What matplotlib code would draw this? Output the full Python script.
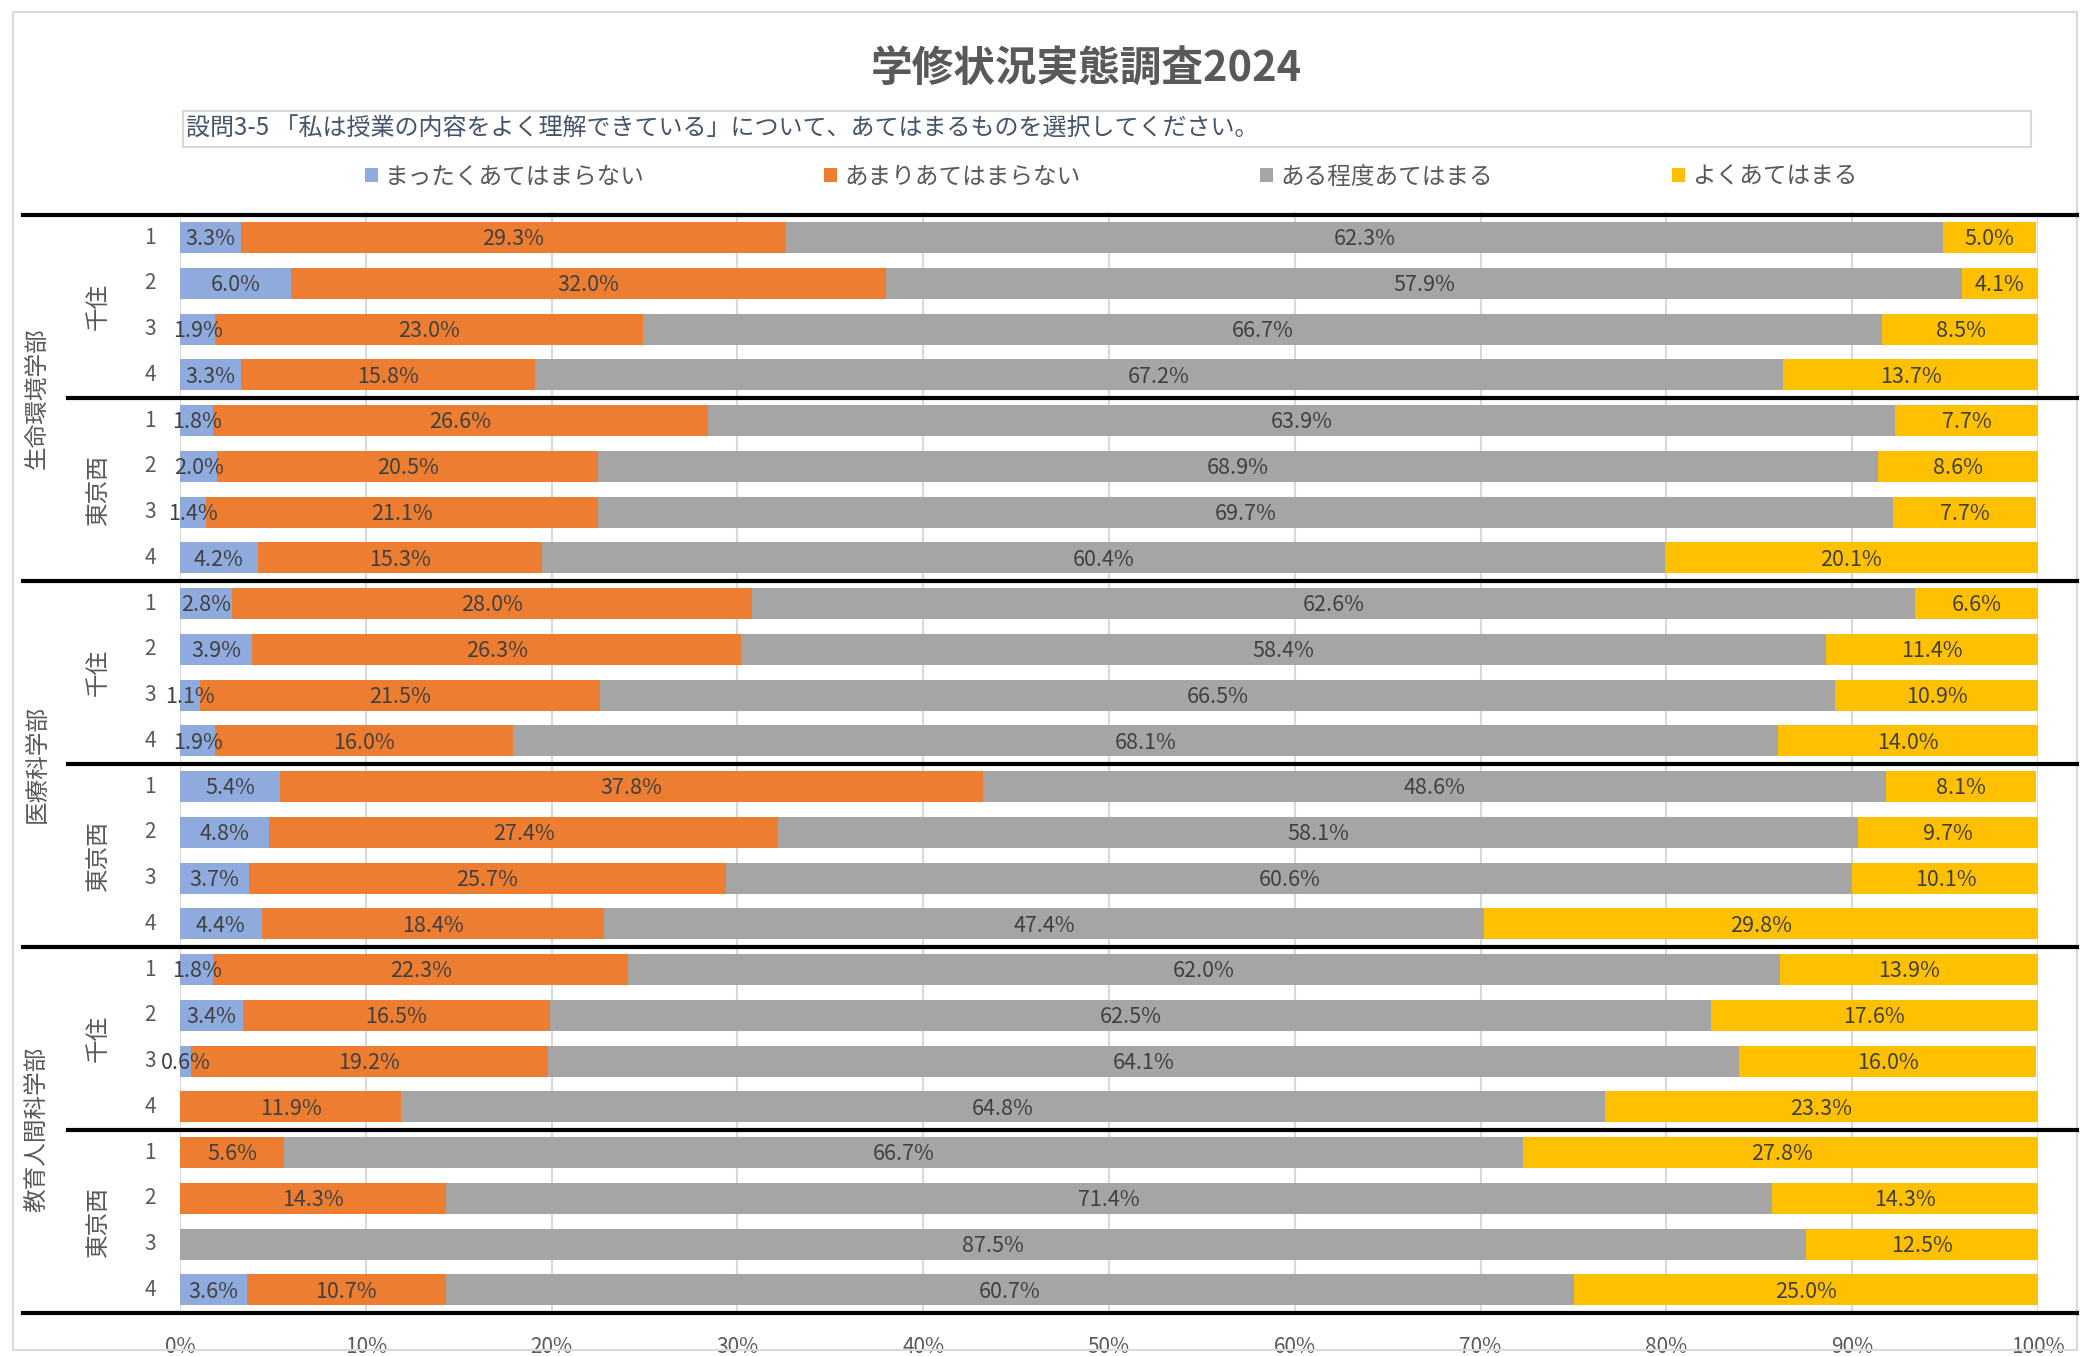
import matplotlib.pyplot as plt
from matplotlib.patches import Patch, Rectangle
from matplotlib.lines import Line2D
import numpy as np

plt.rcParams['font.family'] = ['Noto Sans CJK JP', 'DejaVu Sans']

title = '学修状況実態調査2024'
question = '設問3-5 「私は授業の内容をよく理解できている」について、あてはまるものを選択してください。'
series_names = ['まったくあてはまらない', 'あまりあてはまらない', 'ある程度あてはまる', 'よくあてはまる']
colors = ['#8faadc', '#ed7d31', '#a5a5a5', '#ffc000']

faculties = ['生命環境学部', '医療科学部', '教育人間科学部']
campuses = ['千住', '東京西']
years = ['1', '2', '3', '4']

# 24 rows: faculty -> campus -> year
not_at_all = [3.3, 6.0, 1.9, 3.3, 1.8, 2.0, 1.4, 4.2,
              2.8, 3.9, 1.1, 1.9, 5.4, 4.8, 3.7, 4.4,
              1.8, 3.4, 0.6, 0.0, 0.0, 0.0, 0.0, 3.6]
not_much = [29.3, 32.0, 23.0, 15.8, 26.6, 20.5, 21.1, 15.3,
            28.0, 26.3, 21.5, 16.0, 37.8, 27.4, 25.7, 18.4,
            22.3, 16.5, 19.2, 11.9, 5.6, 14.3, 0.0, 10.7]
somewhat = [62.3, 57.9, 66.7, 67.2, 63.9, 68.9, 69.7, 60.4,
            62.6, 58.4, 66.5, 68.1, 48.6, 58.1, 60.6, 47.4,
            62.0, 62.5, 64.1, 64.8, 66.7, 71.4, 87.5, 60.7]
very = [5.0, 4.1, 8.5, 13.7, 7.7, 8.6, 7.7, 20.1,
        6.6, 11.4, 10.9, 14.0, 8.1, 9.7, 10.1, 29.8,
        13.9, 17.6, 16.0, 23.3, 27.8, 14.3, 12.5, 25.0]

W, H = 2097, 1356
fig = plt.figure(figsize=(W / 100, H / 100), dpi=100)
fig.patch.set_facecolor('white')

ax_left, ax_right, ax_top, ax_bottom = 180, 2038, 212, 1315
ax = fig.add_axes([ax_left / W, 1 - ax_bottom / H, (ax_right - ax_left) / W, (ax_bottom - ax_top) / H])

# outer border
fig.patches.append(Rectangle((13 / W, 1 - 1350 / H), (2077 - 13) / W, (1350 - 12) / H,
                             transform=fig.transFigure, fill=False, edgecolor='#d9d9d9', lw=1.5))

data = np.array([not_at_all, not_much, somewhat, very])
n = data.shape[1]
y = np.arange(n)
left = np.zeros(n)
for k in range(4):
    ax.barh(y, data[k], left=left, height=0.68, color=colors[k], zorder=2)
    for i in range(n):
        v = data[k][i]
        if v > 0:
            ax.text(left[i] + v / 2, y[i] + 0.04, f'{v:.1f}%', ha='center', va='center',
                    fontsize=15.5, color='#404040', zorder=3)
    left += data[k]

ax.set_xlim(0, 100)
ax.set_ylim(n - 0.45, -0.56)
ax.set_xticks(np.arange(0, 101, 10))
ax.set_xticklabels([f'{t}%' for t in range(0, 101, 10)], fontsize=15, color='#595959')
ax.tick_params(axis='x', length=0, pad=15)
ax.set_yticks([])
for s in ax.spines.values():
    s.set_visible(False)
ax.grid(axis='x', color='#d9d9d9', lw=1.5, zorder=0)
ax.set_axisbelow(True)

# category labels
tr = ax.get_yaxis_transform()
for i in range(n):
    ax.text(-0.016, i, years[i % 4], transform=tr, ha='center', va='center',
            fontsize=15, color='#595959', clip_on=False)
for f in range(3):
    for c in range(2):
        ax.text(-0.044, f * 8 + c * 4 + 1.5, campuses[c], transform=tr, rotation=90,
                ha='center', va='center', fontsize=17, color='#595959', clip_on=False)
    ax.text(-0.077, f * 8 + 3.5, faculties[f], transform=tr, rotation=90,
            ha='center', va='center', fontsize=17, color='#595959', clip_on=False)

# separator lines
def hline(yv, x0):
    yf = ax.transData.transform((0, yv))[1] / H
    fig.add_artist(Line2D([x0 / W, 2077 / W], [yf, yf], color='black', lw=3))

fig.canvas.draw()
for b in [-0.5, 7.5, 15.5, 23.5]:
    hline(b, 23)
for b in [3.5, 11.5, 19.5]:
    hline(b, 68)

# title, question box, legend
fig.text(1086 / W, 1 - 70 / H, title, ha='center', va='center', fontsize=30,
         fontweight='bold', color='#595959')
fig.patches.append(Rectangle((183 / W, 1 - 147 / H), (2031 - 183) / W, 36 / H,
                             transform=fig.transFigure, fill=False, edgecolor='#d9d9d9', lw=1.5))
fig.text(186 / W, 1 - 129 / H, question, ha='left', va='center', fontsize=17.3, color='#44546a')

handles = [Patch(facecolor=c) for c in colors]
fig.legend(handles, series_names, loc='center', bbox_to_anchor=(0.53, 1 - 177 / H), ncol=4,
           frameon=False, fontsize=17, handlelength=0.55, handleheight=0.55, handletextpad=0.3,
           columnspacing=7.6, labelcolor='#595959')

fig.savefig('out.png', dpi=100, facecolor='white')
